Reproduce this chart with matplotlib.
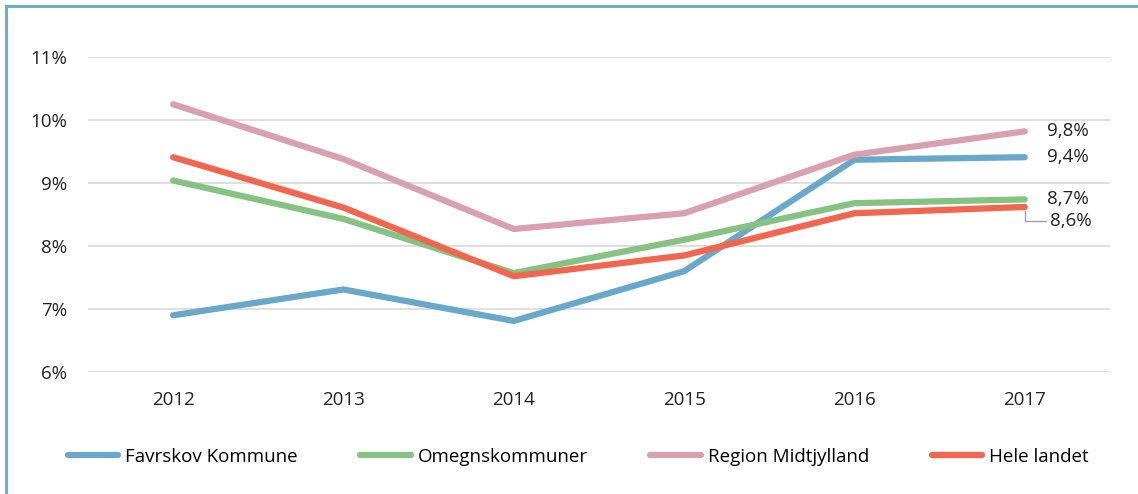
import matplotlib.pyplot as plt
from matplotlib.lines import Line2D

plt.rcParams['font.family'] = ['Open Sans', 'DejaVu Sans']

years = ['2012', '2013', '2014', '2015', '2016', '2017']
favrskov = [6.9, 7.31, 6.81, 7.6, 9.37, 9.41]
omegn = [9.04, 8.43, 7.57, 8.1, 8.68, 8.74]
region = [10.25, 9.38, 8.27, 8.52, 9.45, 9.82]
hele = [9.41, 8.61, 7.52, 7.85, 8.52, 8.62]

series = [
    ('Favrskov Kommune', favrskov, '#6aa8c9'),
    ('Omegnskommuner', omegn, '#86c383'),
    ('Region Midtjylland', region, '#d9a0ae'),
    ('Hele landet', hele, '#f2664f'),
]

fs = 13.5
fig = plt.figure(figsize=(11.38, 4.94), dpi=100)
ax = fig.add_axes([0.0773, 0.247, 0.898, 0.6375])

x = list(range(len(years)))
for name, vals, col in series:
    ax.plot(x, vals, color=col, lw=4.5, solid_capstyle='round', label=name, zorder=3)

ax.set_xlim(-0.5, len(years) - 0.5)
ax.set_ylim(6, 11)
ax.set_yticks([6, 7, 8, 9, 10, 11])
ax.set_yticklabels([f'{v}%' for v in range(6, 12)])
ax.set_xticks(x)
ax.set_xticklabels(years)
ax.grid(axis='y', color='#d9d9d9', lw=1.2)
ax.set_axisbelow(True)
for s in ax.spines.values():
    s.set_visible(False)
ax.tick_params(length=0, labelsize=fs, colors='#222222')
ax.tick_params(axis='x', pad=14)
ax.tick_params(axis='y', pad=15)

# end labels
last = x[-1]
for txt, v in [('9,8%', region[-1]), ('9,4%', favrskov[-1]), ('8,7%', omegn[-1])]:
    ax.annotate(txt, (last, v), xytext=(16, 0), textcoords='offset points',
                va='center', fontsize=fs, color='#222222')
ax.annotate('8,6%', (last, hele[-1]), xytext=(18, -10), textcoords='offset points',
            va='center', fontsize=fs, color='#222222',
            arrowprops=dict(arrowstyle='-', color='#a0a0a0', lw=1,
                            connectionstyle='angle,angleA=0,angleB=90,rad=0',
                            shrinkA=1, shrinkB=3))

handles = [Line2D([], [], color=c, lw=4.5, solid_capstyle='round') for _, _, c in series]
fig.legend(handles, [n for n, _, _ in series], loc='center', ncol=4,
           bbox_to_anchor=(0.508, 0.075), frameon=False, fontsize=fs,
           handlelength=2.7, handletextpad=0.35, columnspacing=3.35)

# blue frame (left and top edges)
fig.add_artist(Line2D([6 / 1138, 6 / 1138], [0, 1 - 6 / 494], color='#6aaed3', lw=2.2,
                      transform=fig.transFigure))
fig.add_artist(Line2D([6 / 1138, 1], [1 - 6 / 494, 1 - 6 / 494], color='#6aaed3', lw=2.2,
                      transform=fig.transFigure))

fig.savefig('out.png', dpi=100)
